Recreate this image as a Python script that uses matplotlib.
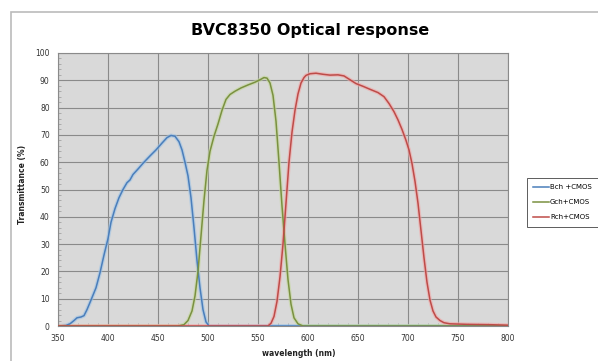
import numpy as np
import matplotlib
matplotlib.use('Agg')
import matplotlib.pyplot as plt
from matplotlib.patches import Rectangle

wl_b = [350, 358, 362, 366, 369, 373, 376, 379, 383, 388, 392, 396, 400, 403, 407, 411, 415, 419, 422,
        425, 430, 436, 442, 448, 454, 459, 463, 467, 471, 474, 477, 480, 483, 486, 489, 492, 495, 498,
        501, 800]
t_b = [0, 0.2, 0.8, 2, 3, 3.3, 3.8, 6, 9.5, 14, 19.5, 26, 32, 38, 43, 47, 50, 52.5, 53.5,
       55.5, 57.5, 60, 62.3, 64.5, 67, 69, 69.8, 69.5, 67.5, 64.5, 60, 55, 47, 36, 24, 14, 6, 1.5,
       0, 0]

wl_g = [350, 470, 476, 480, 484, 487, 490, 493, 496, 499, 502, 506, 510, 514, 518, 522, 527, 533,
        540, 547, 552, 556, 559, 562, 565, 568, 571, 574, 577, 580, 583, 586, 590, 595, 800]
t_g = [0, 0, 0.5, 2, 5.5, 11, 20, 33, 46, 57, 64, 69.5, 74, 79, 83, 84.8, 86, 87.2,
       88.3, 89.3, 90.2, 91, 90.8, 89, 84.5, 75, 60, 44, 30, 17, 8, 3, 0.8, 0, 0]

wl_r = [350, 560, 563, 566, 569, 572, 575, 578, 581, 584, 587, 590, 593, 596, 598, 602, 608, 615,
        622, 630, 636, 642, 648, 655, 662, 670, 676, 681, 686, 690, 694, 698, 701, 704, 707, 710,
        713, 716, 719, 722, 725, 728, 732, 736, 742, 760, 780, 800]
t_r = [0, 0, 1, 3.5, 9, 18, 30, 45, 60, 71, 79, 85, 89, 91, 91.8, 92.4, 92.6, 92.2,
       91.9, 92, 91.6, 90.2, 88.8, 87.8, 86.7, 85.5, 84, 81.5, 78.5, 75.5, 72, 68, 64.5, 59.5, 53, 45,
       35, 25, 16, 9.5, 5.5, 3.3, 2, 1.2, 0.8, 0.6, 0.5, 0.3]

names = ['Bch +CMOS', 'Gch+CMOS', 'Rch+CMOS']
cols = ['#4A7EBB', '#7A9140', '#BE4B48']
halos = ['#9DC3E6', '#C4D79B', '#F2A6A6']

fig = plt.figure(figsize=(5.98, 3.61), dpi=100)
fig.patches.append(Rectangle((11/598, -0.1), 1, 1.1 - 12/361, transform=fig.transFigure,
                             fill=False, edgecolor='#BBBBBB', lw=1.2))

ax = fig.add_axes([58/598, 1 - 326/361, 450/598, 273/361])
ax.set_facecolor('#D9D9D9')

series = [(wl_b, t_b), (wl_g, t_g), (wl_r, t_r)]
for (x, y), n, c, h in zip(series, names, cols, halos):
    ax.plot(x, y, color=h, lw=2.8, alpha=0.6, solid_capstyle='round', solid_joinstyle='round', zorder=2)
    ax.plot(x, y, color=c, lw=1.1, label=n, solid_joinstyle='round', zorder=3)

ax.set_xlim(350, 800)
ax.set_ylim(0, 100)
ax.set_xticks(np.arange(350, 801, 50))
ax.set_yticks(np.arange(0, 101, 10))
ax.set_xticks(np.arange(350, 801, 10), minor=True)
ax.set_yticks(np.arange(0, 101, 2), minor=True)
ax.grid(True, which='major', color='#8A8A8A', lw=0.8)
ax.tick_params(which='major', length=0, labelsize=5.5, labelcolor='#333333', pad=6)
ax.tick_params(which='minor', direction='in', length=2, color='#999999', width=0.5)
for s in ax.spines.values():
    s.set_color('#8A8A8A')
    s.set_linewidth(0.8)

ax.set_xlabel('wavelength (nm)', fontsize=5.5, fontweight='bold', color='#222222')
ax.xaxis.set_label_coords((299 - 58) / 450, -0.085)
ax.set_ylabel('Transmittance (%)', fontsize=5.5, fontweight='bold', color='#222222')
ax.yaxis.set_label_coords(-0.068, 0.52)

fig.text(310/598, 1 - 30/361, 'BVC8350 Optical response', ha='center', va='center',
         fontsize=11.5, fontweight='bold')

leg = ax.legend(loc='upper left', bbox_to_anchor=(527/598, 1 - 178/361),
                bbox_transform=fig.transFigure, fontsize=5, frameon=True, fancybox=False,
                handlelength=2.2, handletextpad=0.2, borderaxespad=0, labelspacing=1.3,
                borderpad=0.9)
leg.get_frame().set_edgecolor('#333333')
leg.get_frame().set_linewidth(0.7)

fig.savefig('out.png', dpi=100)
